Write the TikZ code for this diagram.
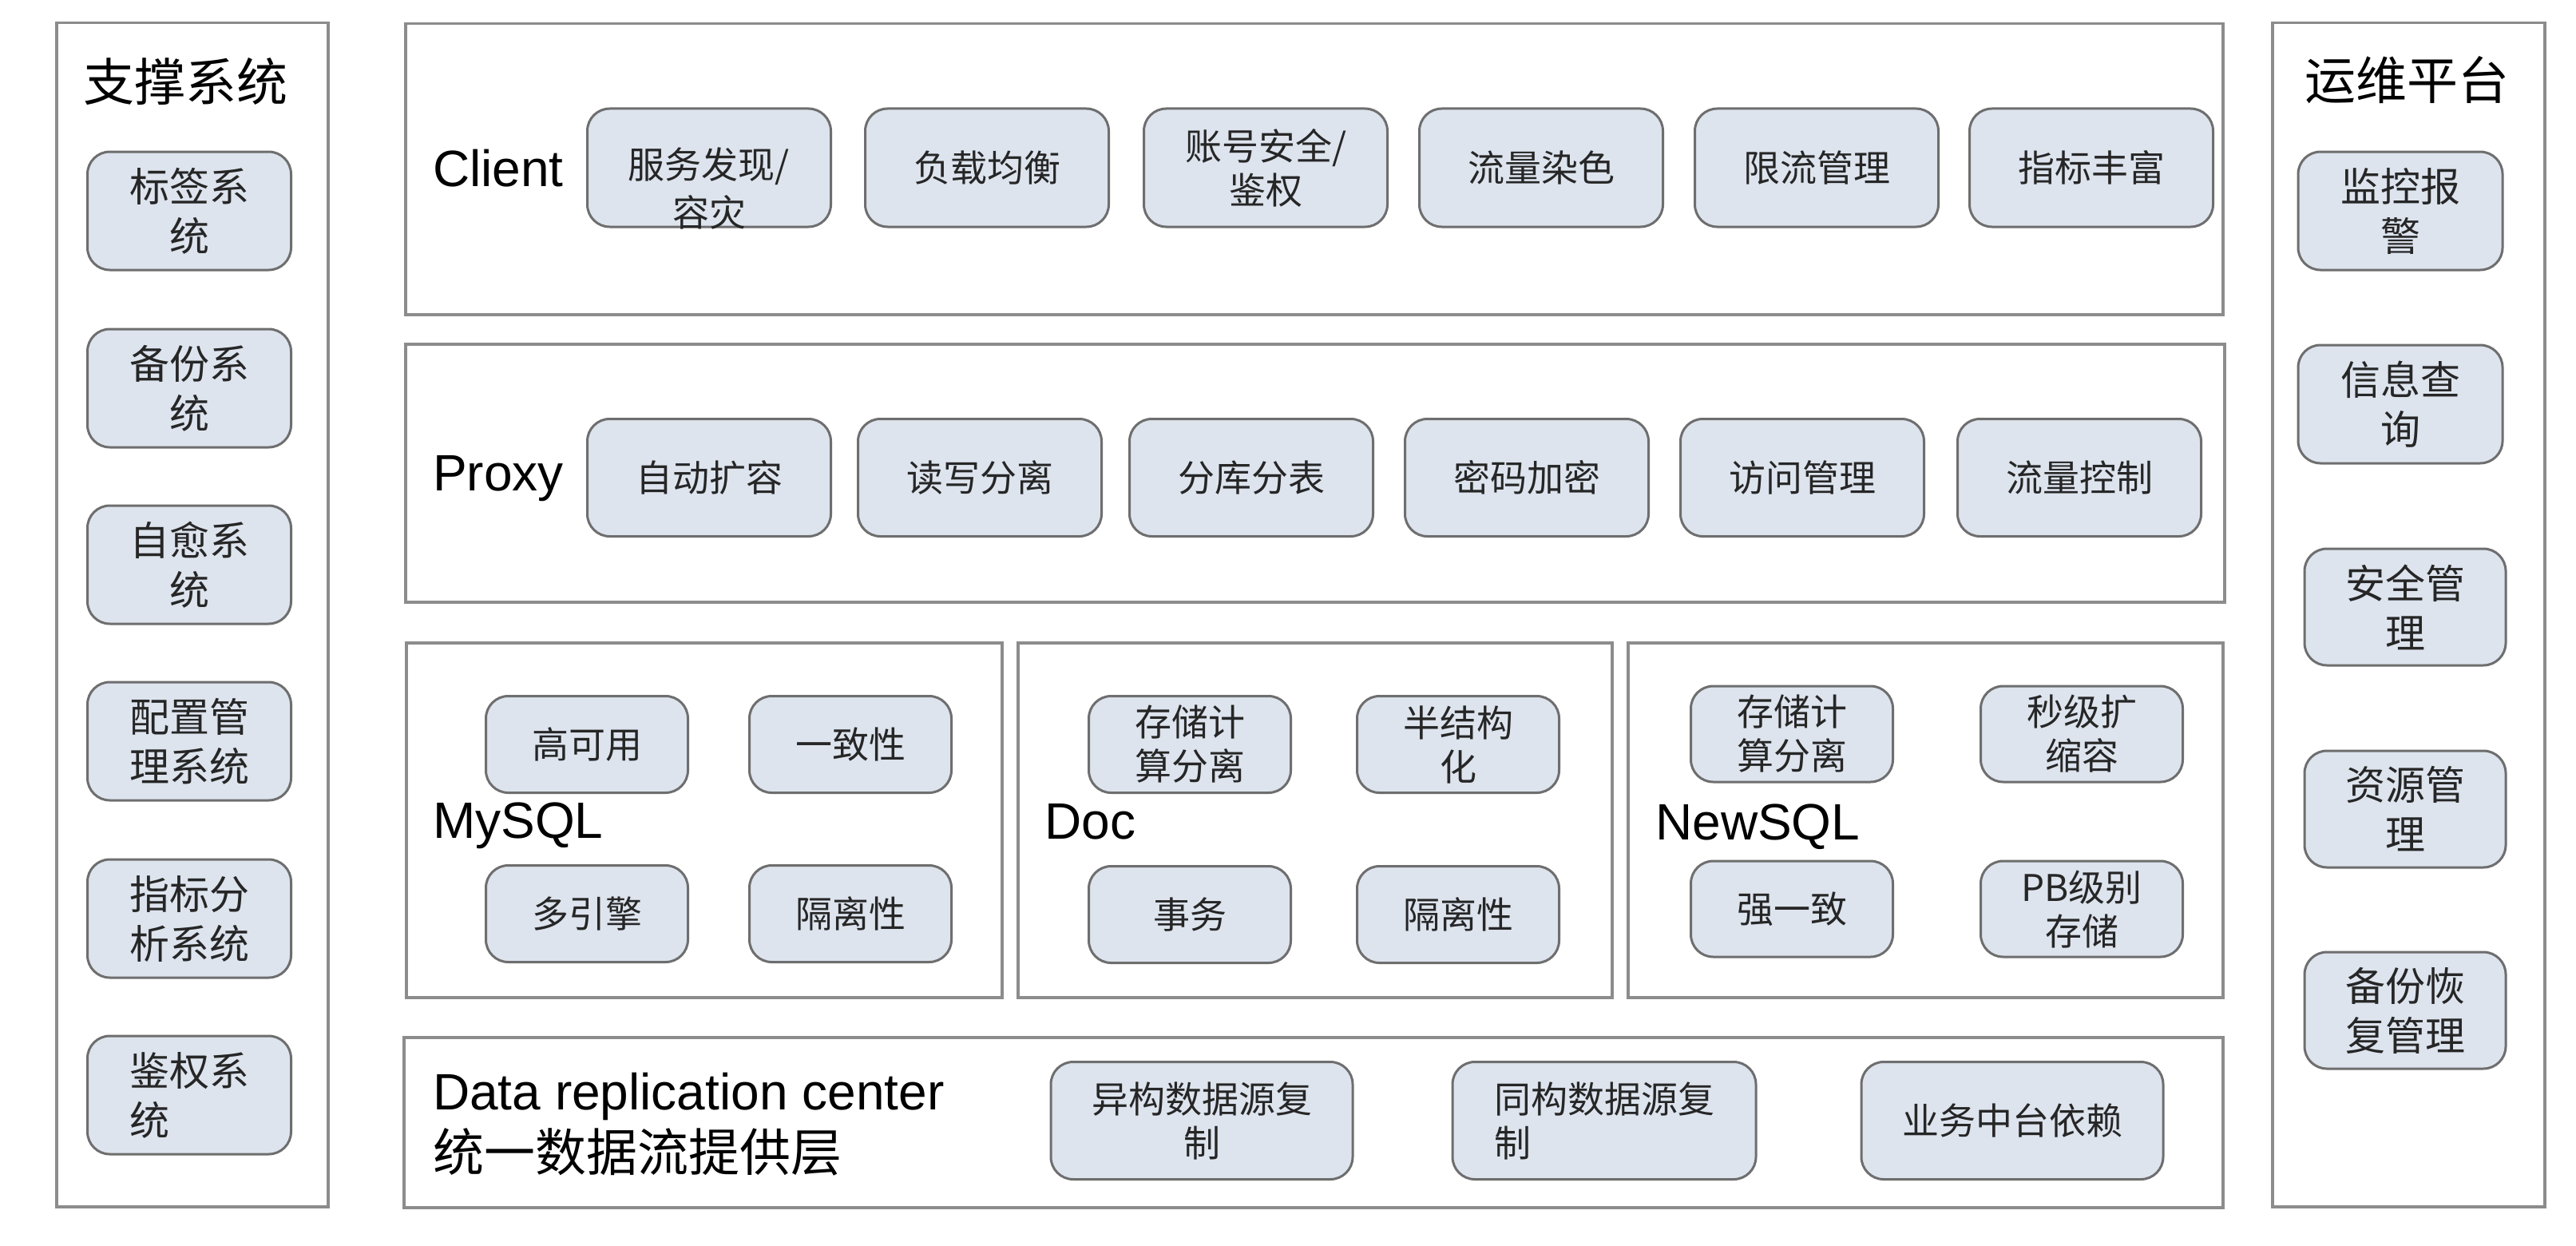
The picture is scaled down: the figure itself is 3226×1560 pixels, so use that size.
\documentclass[tikz,border=0pt]{standalone}
\usepackage{fontspec}
\setmainfont{Liberation Sans}
\newfontfamily\cjk{Noto Sans CJK SC}
\definecolor{itemfill}{HTML}{DDE4EE}
\definecolor{itemdraw}{HTML}{6E6E6E}
\definecolor{paneldraw}{HTML}{8C8C8C}
\definecolor{txt}{HTML}{262626}
\begin{document}
\begin{tikzpicture}[x=1pt,y=-1pt,
  panel/.style={draw=paneldraw,line width=3.5pt,fill=white,inner sep=0pt,anchor=north west},
  item/.style={draw=itemdraw,fill=itemfill,line width=3pt,rounded corners=28pt,minimum width=305pt,minimum height=148pt,inner sep=0pt,align=center,text=txt,font=\cjk\fontsize{46}{55}\selectfont},
  side/.style={item,minimum width=255pt,minimum height=148pt,font=\cjk\fontsize{50}{62}\selectfont},
  db/.style={item,minimum width=253pt,minimum height=121pt},
  drc/.style={item,minimum width=378pt,minimum height=147pt},
  lbl/.style={anchor=base west,inner sep=0pt,text=black,font=\fontsize{64}{70}\selectfont},
  cjklbl/.style={lbl,font=\cjk\fontsize{64}{70}\selectfont},
  title/.style={inner sep=0pt,text=black,font=\cjk\fontsize{64}{70}\selectfont}
]
\useasboundingbox[fill=white] (0,0) rectangle (3226,1560);

% panels
\node[panel,minimum width=340pt,minimum height=1482pt] (leftp) at (69,27) {};
\node[panel,minimum width=2276pt,minimum height=364pt] (clientp) at (506,28) {};
\node[panel,minimum width=2278pt,minimum height=323pt] (proxyp) at (506,429) {};
\node[panel,minimum width=746pt,minimum height=444pt] (mysqlp) at (507,803) {};
\node[panel,minimum width=744pt,minimum height=444pt] (docp) at (1273,803) {};
\node[panel,minimum width=745pt,minimum height=444pt] (newsqlp) at (2037,803) {};
\node[panel,minimum width=2278pt,minimum height=213pt] (drcp) at (504,1297) {};
\node[panel,minimum width=341pt,minimum height=1482pt] (rightp) at (2844,27) {};

% titles
\node[title] (lt) at (232,102) {支撑系统};
\node[title] (rt) at (3014,100) {运维平台};

% left panel items
\node[side] (l1) at (237,264) {标签系\\统};
\node[side] (l2) at (237,486) {备份系\\统};
\node[side] (l3) at (237,707) {自愈系\\统};
\node[side] (l4) at (237,928) {配置管\\理系统};
\node[side] (l5) at (237,1150) {指标分\\析系统};
\node[side,align=left] (l6) at (237,1371) {鉴权系\\统};

% right panel items
\node[side,minimum width=256pt] (r1) at (3006,264) {监控报\\警};
\node[side,minimum width=256pt] (r2) at (3006,506) {信息查\\询};
\node[side,minimum width=252pt,minimum height=146pt] (r3) at (3012,760) {安全管\\理};
\node[side,minimum width=252pt,minimum height=146pt] (r4) at (3012,1013) {资源管\\理};
\node[side,minimum width=252pt,minimum height=146pt] (r5) at (3012,1265) {备份恢\\复管理};

% client row
\node[lbl] (clientl) at (542,233) {Client};
\node[item] (c1) at (888,210) {};
\node[inner sep=0pt,align=center,text=txt,font=\cjk\fontsize{46}{60}\selectfont] (c1t) at ([yshift=-26pt]c1.center) {服务发现/\\容灾};
\node[item] (c2) at (1236,210) {负载均衡};
\node[item] (c3) at (1585,210) {账号安全/\\鉴权};
\node[item] (c4) at (1930,210) {流量染色};
\node[item] (c5) at (2275,210) {限流管理};
\node[item] (c6) at (2619,210) {指标丰富};

% proxy row
\node[lbl] (proxyl) at (542,614) {Proxy};
\node[item,minimum height=147pt] (p1) at (888,598) {自动扩容};
\node[item,minimum height=147pt] (p2) at (1227,598) {读写分离};
\node[item,minimum height=147pt] (p3) at (1567,598) {分库分表};
\node[item,minimum height=147pt] (p4) at (1912,598) {密码加密};
\node[item,minimum height=147pt] (p5) at (2257,598) {访问管理};
\node[item,minimum height=147pt] (p6) at (2604,598) {流量控制};

% MySQL
\node[lbl] (mysqll) at (542,1049) {MySQL};
\node[db] (m1) at (735,932) {高可用};
\node[db] (m2) at (1065,932) {一致性};
\node[db] (m3) at (735,1144) {多引擎};
\node[db] (m4) at (1065,1144) {隔离性};

% Doc
\node[lbl] (docl) at (1308,1050) {Doc};
\node[db] (d1) at (1490,932) {存储计\\算分离};
\node[db] (d2) at (1826,932) {半结构\\化};
\node[db] (d3) at (1490,1145) {事务};
\node[db] (d4) at (1826,1145) {隔离性};

% NewSQL
\node[lbl] (newsqll) at (2073,1051) {NewSQL};
\node[db,minimum height=120pt] (n1) at (2244,919) {存储计\\算分离};
\node[db,minimum height=120pt] (n2) at (2607,919) {秒级扩\\缩容};
\node[db,minimum height=120pt] (n3) at (2244,1138) {强一致};
\node[db,minimum height=120pt] (n4) at (2607,1138) {PB级别\\存储};

% data replication center
\node[lbl] (drcl1) at (542,1389) {Data replication center};
\node[cjklbl] (drcl2) at (542,1466) {统一数据流提供层};
\node[drc] (e1) at (1505,1403) {异构数据源复\\制};
\node[drc,minimum width=380pt,align=left] (e2) at (2009,1403) {同构数据源复\\制};
\node[drc] (e3) at (2520,1403) {业务中台依赖};
\end{tikzpicture}
\end{document}
